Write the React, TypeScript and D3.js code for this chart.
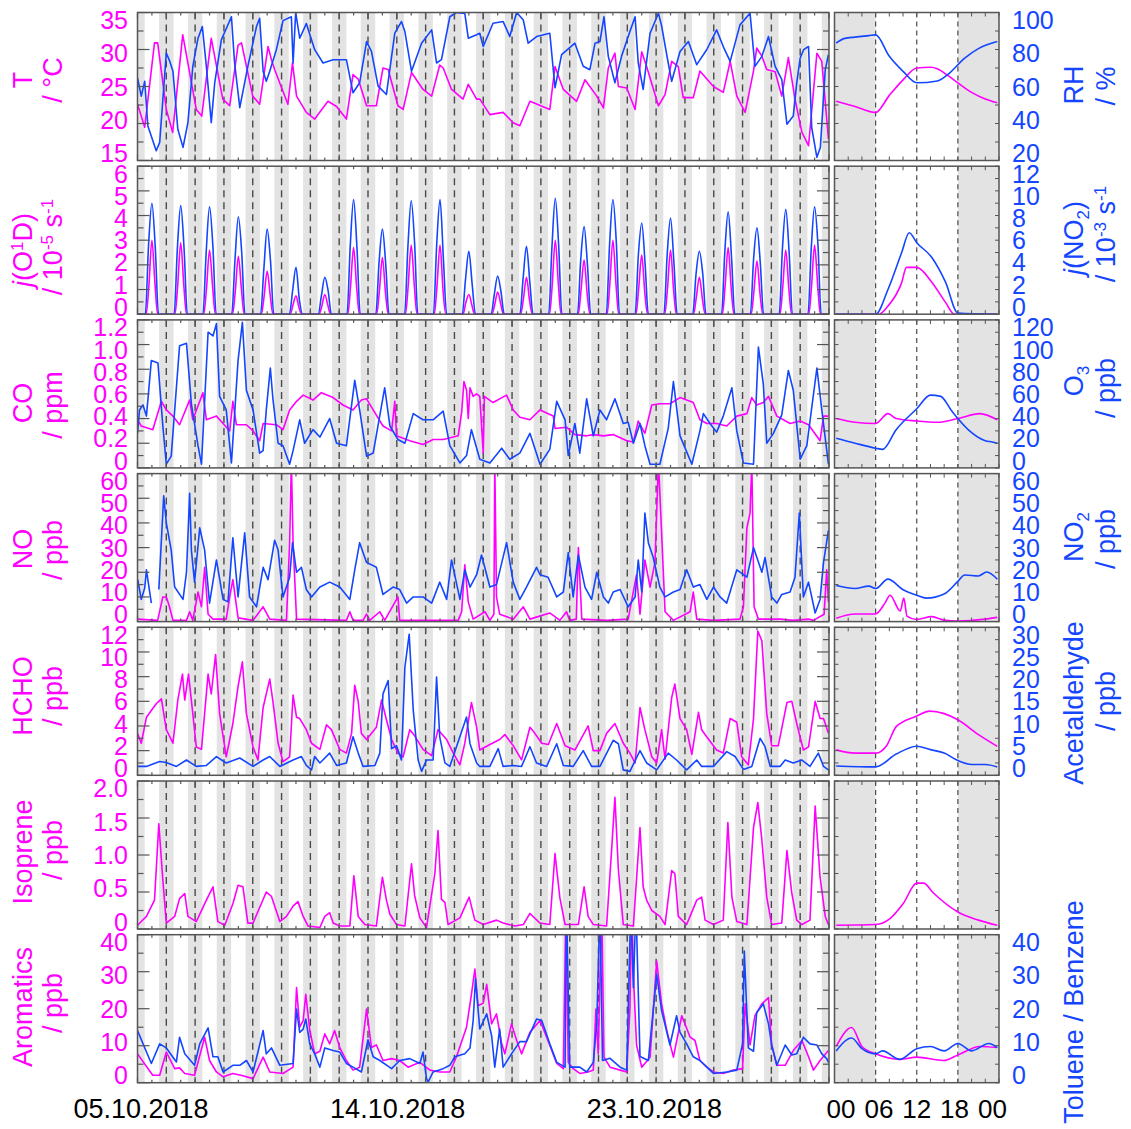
import React from 'react';
import * as d3 from 'd3';

type Pt = [number, number | null];

const MAGENTA = '#ff00ff';
const BLUE = '#1446ff';
const FONT = '"Liberation Sans", Arial, Helvetica, sans-serif';

const WIDTH = 1131;
const HEIGHT = 1129;
const MAIN_X0 = 137.5;
const MAIN_X1 = 829;
const DIUR_X0 = 834.5;
const DIUR_X1 = 999;
const ROW_TOP0 = 12.5;
const ROW_STEP = 153.7;
const ROW_H = 148;

// time axis: days since 05.10.2018 00:00
const DAYS = 24;
const dateTicks = [0, 9, 18];
const dateLabels = ['05.10.2018', '14.10.2018', '23.10.2018'];
const hourTicks = [0, 6, 12, 18, 24];
const hourLabels = ['00', '06', '12', '18', '00'];

// ---- panel 1: temperature / RH ----
const tempData: Pt[] = [[0,22.6],[0.25,19.5],[0.59,30.9],[0.7,30.9],[1.0,21.9],[1.22,18.8],[1.57,32],[2.04,21.9],[2.23,21.0],[2.56,31.5],[2.96,23.3],[3.2,22.4],[3.49,30.6],[3.61,30.9],[4.0,23.7],[4.24,22.6],[4.53,30.4],[4.65,28.6],[4.76,27.3],[5.22,22.6],[5.38,28.2],[5.52,23.7],[5.86,21.5],[6.15,20.6],[6.61,23.0],[6.91,22.3],[7.25,20.6],[7.48,26.6],[7.66,26.0],[7.95,22.4],[8.29,22.4],[8.52,27.5],[8.7,27.3],[9.04,22.4],[9.22,21.9],[9.51,26.9],[9.91,24.6],[10.21,23.7],[10.49,27.9],[10.61,27.5],[10.9,24.6],[11.3,23.3],[11.48,25.3],[11.77,23.3],[11.88,23.3],[12.23,21.2],[12.69,21.5],[13.04,20.1],[13.27,19.7],[13.62,23.0],[14.31,21.9],[14.49,27.7],[14.78,24.6],[15.24,23.0],[15.53,25.9],[15.94,23.7],[16.17,22.1],[16.34,27.5],[16.57,29.5],[16.69,25.0],[16.98,24.8],[17.27,21.9],[17.5,29.7],[17.67,27.7],[18.08,22.4],[18.31,23.9],[18.54,28.4],[18.77,27.7],[18.94,23.5],[19.29,23.5],[19.52,27.1],[19.99,25.0],[20.33,24.2],[20.57,28.4],[20.8,23.7],[21.09,21.5],[21.38,27.1],[21.49,30.2],[21.67,29.1],[21.84,27.3],[22.13,27.0],[22.36,23.7],[22.59,28.9],[22.82,23.3],[23.06,18.8],[23.29,17.0],[23.58,29.5],[23.75,28.4],[23.98,17.9]];
const rhData: Pt[] = [[0,64.7],[0.13,54.8],[0.25,62.8],[0.36,38.7],[0.65,25.3],[0.77,29.8],[1.0,78.1],[1.11,74],[1.23,68.2],[1.4,36.9],[1.58,27.1],[1.75,40.5],[1.92,70.9],[2.1,86.1],[2.25,92.4],[2.39,70.9],[2.56,40.5],[2.68,62.0],[2.91,85.2],[3.26,97.7],[3.37,72.7],[3.55,48.6],[3.83,70.9],[4.13,92.4],[4.24,96.9],[4.36,68.2],[4.47,62.8],[4.59,68.2],[4.82,79.9],[5.05,95.6],[5.34,97.7],[5.4,72.7],[5.49,100],[5.63,86.1],[5.86,94.0],[6.15,79.9],[6.44,72.7],[6.79,74.5],[7.25,74.5],[7.48,56.6],[7.71,62.0],[7.95,84.3],[8.12,79.0],[8.35,60.2],[8.64,55.7],[8.93,88.8],[9.16,95.1],[9.28,89.7],[9.51,68.2],[9.86,83.4],[10.21,90.6],[10.38,72.7],[10.55,74.5],[10.84,97.7],[11.07,100],[11.36,99.5],[11.48,86.1],[11.77,88],[11.88,88.8],[12.0,81.6],[12.34,94.2],[12.69,95.1],[12.92,87.0],[13.16,100],[13.39,95.9],[13.56,83.4],[13.85,87.0],[14.31,88.8],[14.49,59.3],[14.72,77.2],[15.18,83.4],[15.47,70.9],[15.7,69.1],[15.88,83.4],[16.05,84.3],[16.19,97.7],[16.34,76.3],[16.57,62.0],[16.8,76.3],[17.09,89.7],[17.27,97.7],[17.38,72.7],[17.55,58.4],[17.79,88.8],[18.08,99.6],[18.19,92.8],[18.42,72.7],[18.54,62.8],[18.83,78.9],[19.12,84.3],[19.41,71.8],[19.76,80.0],[20.1,90.6],[20.33,81.6],[20.57,73.6],[20.91,93.3],[21.26,99.6],[21.43,70.9],[21.67,76.3],[21.9,87.0],[22.13,70.9],[22.36,63.8],[22.54,39.6],[22.76,44],[22.88,62.0],[23.0,75.4],[23.12,79.9],[23.29,81.6],[23.4,37.7],[23.58,21.7],[23.7,27],[23.87,69.1],[23.98,77.2]];
const tempDiurnal: Pt[] = [[0.25,23.0],[3,22.3],[6,21.5],[8,23.8],[10,25.9],[12,27.5],[14,27.6],[15,27.4],[16.5,26.5],[18,25.5],[20,24.2],[22,23.3],[23.75,22.8]];
const rhDiurnal: Pt[] = [[0.25,83.5],[1.5,86],[3,86.7],[5,87.5],[6,87.9],[8,76.3],[10,68.2],[12,62.0],[15,63],[16.5,66.4],[19,75.4],[21,80.5],[23.75,84.3]];

// ---- panel 2: photolysis frequencies, one row per day: [morning, noon, afternoon] ----
const jO1DHours = [7.2, 9.4, 12, 14.6, 16.8];
const jNO2Hours = [6.5, 9.2, 12, 14.8, 17.5];
const jO1DDaily = [[1.1,3.0,1.2],[1.1,2.9,1.15],[1.0,2.6,1.1],[0.9,2.35,1.0],[0.7,1.75,0.75],[0.35,0.75,0.25],[0.3,0.8,0.35],[1.1,2.7,1.05],[0.9,2.3,0.85],[1.1,2.8,1.15],[1.1,2.8,0.9],[0.45,0.8,0.35],[0.35,0.9,0.4],[0.6,1.5,0.55],[1.15,3.0,1.2],[0.95,2.2,0.8],[1.2,3.0,1.2],[1.0,2.4,0.85],[1.0,2.6,0.95],[0.65,1.5,0.6],[1.1,2.7,1.0],[0.9,2.15,0.8],[1.05,2.6,1.0],[1.1,2.8,1.15]];
const jNO2Daily = [[5.6,9.0,5.4],[5.3,8.8,5.3],[5.0,8.7,5.5],[4.4,7.9,5.0],[3.6,6.9,4.3],[1.9,3.8,1.2],[1.5,3.0,1.9],[5.5,9.3,5.4],[4.2,6.9,4.0],[5.4,9.2,5.8],[5.6,9.3,4.5],[2.8,5.1,2.4],[1.6,3.1,1.8],[2.9,5.5,2.6],[5.4,9.4,5.6],[4.4,7.1,4.0],[5.6,9.3,5.9],[4.8,7.4,4.1],[4.8,7.8,4.2],[3.2,5.1,3.3],[5.0,8.3,4.6],[4.5,7.0,4.1],[5.3,8.5,5.0],[5.3,8.7,5.6]];
const jO1DDiurnal: Pt[] = [[0.25,0],[6.5,0],[7.8,0.33],[9.8,1.28],[10.5,1.9],[12,1.9],[14.2,1.3],[16.2,0.48],[17.5,0],[23.75,0]];
const jNO2Diurnal: Pt[] = [[0.25,0],[6,0],[7.8,2.0],[9.8,5.0],[10.9,6.6],[12,5.8],[14.2,4.6],[16.2,2.6],[18,0.1],[23.75,0]];

// ---- panel 3: CO / O3 ----
const coData: Pt[] = [[0,0.39],[0.13,0.34],[0.53,0.31],[0.83,0.54],[1.0,0.47],[1.23,0.42],[1.46,0.35],[1.81,0.55],[1.92,0.39],[2.27,0.61],[2.39,0.39],[2.74,0.42],[2.97,0.36],[3.2,0.30],[3.31,0.54],[3.43,0.35],[3.78,0.35],[4.01,0.30],[4.24,0.22],[4.36,0.36],[4.82,0.35],[5.05,0.31],[5.28,0.47],[5.52,0.54],[5.75,0.59],[6.09,0.55],[6.38,0.61],[6.79,0.57],[7.13,0.51],[7.48,0.47],[7.77,0.55],[7.95,0.56],[8.18,0.47],[8.52,0.34],[8.82,0.30],[8.93,0.54],[8.99,0.26],[9.45,0.22],[9.91,0.19],[10.26,0.23],[10.61,0.23],[11.13,0.26],[11.25,0.45],[11.33,0.70],[11.42,0.63],[11.48,0.40],[11.54,0.65],[11.65,0.58],[11.77,0.60],[11.88,0.58],[12.0,0.12],[12.04,0.58],[12.34,0.53],[12.81,0.59],[13.04,0.47],[13.27,0.41],[13.62,0.39],[13.97,0.47],[14.43,0.42],[14.49,0.32],[14.89,0.33],[15.18,0.27],[15.59,0.26],[15.82,0.27],[16.17,0.26],[16.51,0.27],[16.98,0.22],[17.21,0.21],[17.38,0.38],[17.61,0.28],[17.85,0.51],[18.13,0.52],[18.48,0.52],[18.83,0.57],[19.29,0.53],[19.52,0.39],[19.76,0.36],[20.1,0.36],[20.45,0.34],[20.8,0.42],[21.15,0.44],[21.32,0.57],[21.49,0.51],[21.72,0.53],[21.9,0.58],[22.19,0.42],[22.65,0.36],[23.0,0.38],[23.29,0.35],[23.69,0.22],[23.81,0.42],[23.98,0.42]];
const o3Data: Pt[] = [[0,28],[0.07,47],[0.19,51],[0.31,42],[0.48,87],[0.71,85],[0.88,34],[1.0,3],[1.17,9.5],[1.46,99],[1.7,101],[1.87,52],[2.1,18],[2.22,3],[2.45,110],[2.62,107],[2.74,117],[2.85,58],[3.08,47],[3.26,4],[3.49,87],[3.64,118],[3.78,63],[4.01,47],[4.24,12],[4.36,14],[4.47,47],[4.61,81],[4.7,56],[4.88,20],[5.05,18],[5.28,3],[5.4,14],[5.63,39],[5.8,20],[6.09,31],[6.33,25],[6.67,40],[6.91,20],[7.25,18],[7.54,71],[7.71,47],[7.95,9.5],[8.18,12],[8.58,65],[8.76,34],[9.04,23],[9.28,20],[9.57,44],[9.91,39],[10.26,39],[10.61,46],[10.84,18],[11.19,4],[11.42,10],[11.59,31],[11.88,7],[12.23,4],[12.64,16],[12.92,7],[13.27,12],[13.62,28],[13.97,3],[14.31,15],[14.55,54],[14.84,39],[14.95,10],[15.18,36],[15.35,12],[15.59,56],[15.82,26],[16.05,47],[16.28,39],[16.57,56],[16.86,36],[17.03,37],[17.21,20],[17.44,36],[17.61,18],[17.79,3],[18.13,3],[18.42,32],[18.6,70],[18.83,26],[19.06,13],[19.24,3],[19.52,30],[19.64,44],[19.87,36],[20.1,29],[20.33,42],[20.63,65],[20.8,30],[21.03,4],[21.38,3],[21.55,98],[21.72,68],[21.84,20],[22.07,28],[22.36,43],[22.59,79],[22.76,63],[23.0,7],[23.23,18],[23.58,81],[23.75,47],[23.98,3]];
const coDiurnal: Pt[] = [[0.25,0.40],[3,0.37],[6,0.36],[7.8,0.44],[9,0.40],[12,0.38],[15,0.37],[18,0.40],[21.2,0.44],[23.75,0.39]];
const o3Diurnal: Pt[] = [[0.25,24],[3,20],[6,16],[7,15],[9,31],[12,48],[14,59],[15.5,58],[17,47],[18,40],[19.5,31],[22,22],[23,21],[23.75,20]];

// ---- panel 4: NO / NO2 ----
const noData: Pt[] = [[0,1],[0.7,0.5],[0.88,10],[1.0,10],[1.11,6],[1.23,0.5],[1.7,0.5],[1.81,4],[1.92,0.5],[2.1,12],[2.22,6],[2.33,22],[2.45,3],[2.62,1],[3.08,1],[3.2,10],[3.31,17],[3.49,1.5],[4.01,0.5],[4.36,6],[4.59,1],[5.17,0.5],[5.28,32],[5.34,65],[5.4,32],[5.52,1],[7.25,0.5],[7.37,4],[7.48,0.5],[7.83,0.5],[7.95,3],[8.06,0.5],[8.41,4],[8.58,0.5],[9.04,10],[9.1,0.5],[11.13,0.5],[11.25,4],[11.36,23],[11.48,8],[11.65,1],[12.06,4],[12.23,0.5],[12.37,3],[12.4,65],[12.46,10],[12.57,3],[13.04,1],[13.39,6],[13.62,1],[14.31,3.5],[14.66,0.5],[14.89,4],[15.0,0.5],[15.23,1],[15.3,30],[15.42,1],[16.28,0.5],[17.03,1],[17.32,19],[17.44,3],[17.61,25],[17.79,14],[17.96,24],[18.08,65],[18.19,36],[18.31,4],[18.6,0.5],[19.18,4],[19.29,12],[19.41,1],[19.99,0.5],[20.91,1],[21.03,6],[21.15,38],[21.26,44],[21.32,65],[21.4,6],[21.55,1],[22.3,1],[22.76,0.5],[23.29,1],[23.46,0.5],[23.83,3],[23.92,21],[23.98,8]];
const no2Data: Pt[] = [[0.01,17],[0.13,9],[0.25,13.6],[0.31,21],[0.48,7.5],[0.6,null],[0.74,13],[0.91,51],[1.0,40],[1.17,29],[1.29,14],[1.58,9],[1.7,20],[1.81,52],[1.87,29],[1.98,16],[2.16,38],[2.33,29],[2.5,7.5],[2.74,25],[2.97,9],[3.14,8],[3.31,34],[3.49,10],[3.72,36],[3.89,10],[4.13,6],[4.36,22],[4.53,17],[4.76,33],[4.88,29],[5.05,10],[5.28,18],[5.38,32],[5.52,20],[5.69,22],[5.86,13],[6.04,10],[6.33,14],[6.67,16],[7.02,14],[7.37,9],[7.54,21],[7.71,32],[7.95,24],[8.29,22],[8.52,11],[8.87,14],[9.1,13],[9.34,7.5],[9.57,10],[9.91,10],[10.21,7.5],[10.49,16],[10.73,9],[10.9,25],[11.19,9],[11.36,21],[11.54,14],[11.77,19],[11.94,27],[12.23,14],[12.46,15],[12.81,32],[13.04,16],[13.27,9],[13.5,14],[13.85,22],[13.97,19],[14.25,18],[14.55,10],[14.78,12],[14.95,28],[15.12,10],[15.3,27],[15.53,14],[15.76,9],[15.94,20],[16.17,10],[16.34,7.5],[16.51,12],[16.75,13],[17.03,6],[17.27,10],[17.38,25],[17.5,12],[17.61,44],[17.73,32],[17.9,26],[18.13,14],[18.31,10],[18.6,12],[18.83,13],[19.06,21],[19.29,14],[19.52,15],[19.76,9],[19.99,14],[20.22,10],[20.45,7.5],[20.8,21],[21.15,18],[21.38,30],[21.67,20],[21.78,26],[22.01,10],[22.19,7.5],[22.36,11],[22.65,12],[22.82,18],[22.97,44],[23.11,10],[23.29,16],[23.52,3.5],[23.69,9],[23.81,24],[23.98,37]];
const noDiurnal: Pt[] = [[0.25,1.4],[3,3.1],[6,3.1],[7.4,7.7],[8.1,10.7],[9.6,4.3],[10.1,9.5],[10.6,2.1],[12,0.85],[14.2,2.0],[16,0.6],[18,0.2],[22,1],[23.75,1.7]];
const no2Diurnal: Pt[] = [[0.25,14.6],[3,13.4],[5,14.4],[6,13.4],[7.8,17.2],[10,12.9],[12,10.7],[13.4,9.5],[16,11.2],[18,16.3],[19,18.9],[21,18.5],[22.2,20.1],[23.75,17.2]];

// ---- panel 5: HCHO / acetaldehyde ----
const hchoData: Pt[] = [[0,3.4],[0.13,2.6],[0.31,4.7],[0.65,5.8],[0.83,6.2],[1.0,3.7],[1.23,2.6],[1.4,6.1],[1.56,8.2],[1.64,6.1],[1.77,8.2],[1.92,5.0],[2.04,2.3],[2.22,2.1],[2.45,8.2],[2.56,6.6],[2.71,9.8],[2.85,5.0],[3.08,1.5],[3.31,4.2],[3.49,7.2],[3.64,9.2],[3.78,5.0],[4.01,2.3],[4.18,1.25],[4.36,5.5],[4.59,7.8],[4.7,6.0],[4.88,2.6],[5.05,1.1],[5.28,1.5],[5.4,6.5],[5.52,4.7],[5.63,4.6],[5.86,3.7],[6.04,2.6],[6.33,2.1],[6.56,4.1],[6.73,3.7],[7.02,2.1],[7.25,1.8],[7.43,3.4],[7.54,7.3],[7.66,6.0],[7.77,3.4],[7.95,2.9],[8.29,3.9],[8.47,6.1],[8.64,4.5],[8.82,2.9],[9.04,1.8],[9.22,1.5],[9.45,3.7],[9.62,3.2],[9.91,2.1],[10.21,1.6],[10.43,3.7],[10.73,2.9],[10.96,1.8],[11.19,0.85],[11.36,2.6],[11.59,5.9],[11.77,3.9],[11.88,2.05],[12.23,2.5],[12.57,2.9],[12.75,3.3],[13.04,2.4],[13.33,1.25],[13.62,3.9],[13.73,3.6],[14.03,2.6],[14.26,2.5],[14.55,4.2],[14.84,2.4],[15.18,2.05],[15.64,4.0],[15.82,2.0],[16.05,2.0],[16.28,3.4],[16.57,4.2],[16.86,2.6],[17.09,1.8],[17.27,1.0],[17.44,5.5],[17.61,3.7],[17.85,1.5],[18.02,1.0],[18.19,3.7],[18.31,1.3],[18.54,6.3],[18.65,7.4],[18.83,4.6],[19.06,3.7],[19.24,1.7],[19.47,5.1],[19.58,3.7],[19.76,3.1],[20.1,2.05],[20.33,1.8],[20.57,4.6],[20.8,4.3],[20.97,1.5],[21.2,0.85],[21.38,4.6],[21.53,11.7],[21.67,10.9],[21.84,5.0],[22.01,2.4],[22.24,2.4],[22.54,5.9],[22.71,6.0],[22.88,4.2],[23.11,2.05],[23.29,2.3],[23.52,6.0],[23.69,4.6],[23.81,4.6],[23.98,3.4]];
const acetData: Pt[] = [[0,1.8],[0.31,1.8],[0.77,2.8],[1.0,2.6],[1.35,1.8],[1.7,3.1],[2.04,1.8],[2.39,2.0],[2.74,3.8],[3.08,2.5],[3.55,3.5],[4.01,1.8],[4.36,3.1],[4.59,3.8],[4.94,1.8],[5.4,3.1],[5.69,3.8],[5.86,2.0],[6.04,1.1],[6.15,3.8],[6.33,2.5],[6.67,4.5],[6.91,2.0],[7.25,2.5],[7.48,7.8],[7.66,4.5],[7.83,1.8],[8.24,2.0],[8.41,4.5],[8.52,16.5],[8.7,19.2],[8.82,5.4],[8.99,6.0],[9.16,3.1],[9.28,21.9],[9.43,28.6],[9.57,13.2],[9.74,3.1],[9.86,0.8],[10.03,3.1],[10.26,3.1],[10.38,19.9],[10.49,7.8],[10.67,2.5],[10.84,1.8],[11.42,11.8],[11.54,6.4],[11.77,2.5],[11.88,1.8],[12.23,1.8],[12.52,5.4],[12.69,1.8],[13.04,2.0],[13.33,1.8],[13.62,5.8],[13.85,2.5],[14.2,1.8],[14.55,6.4],[14.78,2.0],[15.12,1.8],[15.47,5.0],[15.76,1.8],[16.05,1.8],[16.51,7.1],[16.69,6.4],[16.86,1.1],[17.09,0.8],[17.44,5.0],[17.67,2.5],[18.02,1.1],[18.42,4.5],[18.71,3.1],[19.06,1.1],[19.41,3.1],[19.58,1.8],[19.99,1.8],[20.45,4.8],[20.74,3.8],[21.03,1.2],[21.32,1.8],[21.61,7.5],[21.78,5.8],[21.96,1.8],[22.3,1.8],[22.48,3.1],[22.76,2.5],[23.06,3.1],[23.34,1.8],[23.63,4.5],[23.81,1.8],[23.98,1.1]];
const hchoDiurnal: Pt[] = [[0.25,2.06],[3,1.8],[6,1.8],[7.6,2.4],[9,3.95],[12,4.8],[13.9,5.2],[16,5.0],[18,4.5],[21,3.3],[23.75,2.35]];
const acetDiurnal: Pt[] = [[0.25,1.9],[6,1.7],[9,4.3],[12,5.9],[14,5.2],[16,4.5],[18,3.0],[20,2.2],[22,2.2],[23.75,1.7]];

// ---- panel 6: isoprene ----
const isopreneData: Pt[] = [[0,0.05],[0.31,0.17],[0.59,0.39],[0.74,1.42],[0.88,0.66],[1.0,0.08],[1.29,0.17],[1.46,0.41],[1.64,0.48],[1.75,0.17],[2.04,0.10],[2.39,0.39],[2.62,0.57],[2.79,0.10],[3.03,0.05],[3.31,0.34],[3.49,0.59],[3.66,0.57],[3.83,0.08],[4.01,0.08],[4.47,0.50],[4.65,0.44],[4.94,0.10],[5.17,0.17],[5.4,0.31],[5.57,0.37],[5.75,0.17],[5.92,0.04],[6.33,0.02],[6.5,0.17],[6.67,0.22],[6.79,0.08],[7.02,0.04],[7.37,0.04],[7.51,0.72],[7.66,0.17],[7.89,0.06],[8.29,0.04],[8.5,0.70],[8.64,0.39],[8.76,0.2],[8.99,0.06],[9.28,0.04],[9.51,0.88],[9.62,0.45],[9.8,0.15],[10.03,0.02],[10.32,0.75],[10.43,1.33],[10.55,0.40],[10.67,0.36],[10.78,0.06],[11.19,0.15],[11.51,0.43],[11.71,0.12],[12.0,0.06],[12.46,0.12],[12.69,0.08],[13.1,0.04],[13.39,0.06],[13.62,0.21],[13.97,0.08],[14.31,0.06],[14.49,1.02],[14.66,0.42],[14.84,0.06],[15.3,0.06],[15.5,0.57],[15.64,0.17],[15.82,0.06],[16.28,0.04],[16.46,1.10],[16.57,1.78],[16.69,0.80],[16.86,0.06],[17.21,0.04],[17.44,1.37],[17.55,0.57],[17.67,0.39],[17.85,0.25],[18.13,0.17],[18.31,0.06],[18.54,0.79],[18.65,0.75],[18.77,0.17],[19.06,0.06],[19.41,0.39],[19.58,0.43],[19.7,0.12],[19.99,0.06],[20.33,0.12],[20.49,1.44],[20.63,0.43],[20.8,0.10],[21.15,0.06],[21.38,1.37],[21.53,1.71],[21.67,1.20],[21.84,0.43],[22.01,0.06],[22.36,0.08],[22.54,1.06],[22.71,0.48],[22.88,0.12],[23.06,0.06],[23.34,0.12],[23.52,1.66],[23.69,0.70],[23.87,0.17],[23.98,0.06]];
const isopreneDiurnal: Pt[] = [[0.25,0.05],[6,0.06],[8.1,0.14],[10,0.34],[12,0.62],[13,0.62],[14.4,0.49],[18,0.23],[21,0.12],[23.75,0.05]];

// ---- panel 7: aromatics / toluene-benzene ----
const aromaticsData: Pt[] = [[0,7.8],[0.53,2.0],[0.77,2.0],[1.0,8.3],[1.29,3.8],[1.46,4.0],[1.64,2.5],[1.98,2.0],[2.33,12.3],[2.5,6.0],[2.74,2.9],[2.97,1.6],[3.31,2.5],[3.66,1.9],[4.01,1.1],[4.36,6.9],[4.59,2.9],[5.05,2.5],[5.4,4.2],[5.52,25.7],[5.63,15.0],[5.75,16.8],[5.84,23.9],[5.98,14.1],[6.15,7.8],[6.33,8.5],[6.5,13.2],[6.67,10.5],[6.84,14.1],[7.02,9.5],[7.25,6.0],[7.48,3.4],[7.71,4.2],[7.95,19.9],[8.12,9.5],[8.29,10.2],[8.52,6.0],[8.82,6.5],[9.1,6.0],[9.39,4.2],[9.8,5.5],[10.15,3.4],[10.49,2.9],[10.84,2.9],[11.07,7.0],[11.42,15.0],[11.59,23.9],[11.71,30.7],[11.82,20.8],[12.0,21.5],[12.12,26.6],[12.29,15.9],[12.46,18.6],[12.64,10.5],[12.75,7.8],[12.98,15.9],[13.16,11.4],[13.33,7.8],[13.62,13.6],[13.97,16.8],[14.2,12.3],[14.55,5.2],[14.78,3.8],[14.87,48],[14.95,5.5],[15.12,3.8],[15.35,2.5],[15.64,2.9],[15.82,3.4],[15.91,19.9],[15.99,7.8],[16.11,48],[16.19,6.9],[16.4,4.2],[16.75,3.4],[16.98,2.9],[17.09,19.9],[17.15,48],[17.23,25.7],[17.32,10.2],[17.5,4.2],[17.79,6.9],[18.02,32.9],[18.19,21.3],[18.37,14.1],[18.6,6.9],[18.89,18.1],[19.18,12.3],[19.35,11.4],[19.52,6.0],[19.76,4.2],[19.99,2.9],[20.33,2.5],[20.68,3.4],[21.0,3.8],[21.09,21.3],[21.26,10.2],[21.43,18.1],[21.67,21.3],[21.9,23.0],[22.01,10.2],[22.19,4.7],[22.48,4.7],[22.76,8.7],[23.06,11.4],[23.29,7.0],[23.46,3.4],[23.69,6.0],[23.98,8.7]];
const tolBenzData: Pt[] = [[0,14.1],[0.48,5.2],[0.77,10.5],[1.0,9.4],[1.35,5.6],[1.46,12.3],[1.64,7.8],[1.98,4.7],[2.16,10.5],[2.45,14.8],[2.62,7.0],[2.79,7.0],[2.97,2.9],[3.31,4.7],[3.55,4.7],[3.78,6.0],[4.01,2.9],[4.36,14.1],[4.47,7.8],[4.65,9.4],[4.94,4.7],[5.4,5.2],[5.52,19.9],[5.63,13.6],[5.75,14.5],[5.84,17.2],[5.98,10.5],[6.15,7.8],[6.33,4.2],[6.5,9.4],[6.79,8.7],[7.02,8.3],[7.25,5.2],[7.48,4.2],[7.77,2.9],[8.0,11.6],[8.18,7.0],[8.41,6.0],[8.82,3.8],[9.1,6.0],[9.45,6.5],[9.8,5.2],[9.91,8.3],[10.03,1.1],[10.09,0.2],[10.26,2.9],[10.61,3.8],[10.84,4.7],[11.01,7.0],[11.36,7.8],[11.54,9.4],[11.65,16.8],[11.73,28.0],[11.88,14.5],[12.12,18.6],[12.29,12.7],[12.4,4.2],[12.57,14.5],[12.69,4.2],[12.98,7.8],[13.27,11.1],[13.5,11.1],[13.85,17.2],[14.03,16.8],[14.31,10.5],[14.55,5.5],[14.84,4.2],[14.89,48],[15.0,4.2],[15.35,4.2],[15.59,2.9],[15.82,5.5],[15.94,15.9],[16.05,48],[16.14,6.0],[16.4,6.6],[16.75,4.2],[16.98,3.4],[17.12,48],[17.21,25.7],[17.3,48],[17.44,7.1],[17.73,6.0],[18.02,29.3],[18.19,19.5],[18.48,10.2],[18.71,18.1],[18.83,13.6],[19.06,10.5],[19.29,7.0],[19.52,6.0],[19.76,4.2],[19.99,2.5],[20.45,2.9],[20.8,3.4],[21.0,10.5],[21.06,35.6],[21.2,9.4],[21.38,8.5],[21.49,18.9],[21.72,21.3],[21.9,15.9],[22.01,10.2],[22.19,4.7],[22.48,10.2],[22.71,7.5],[22.88,7.8],[23.11,12.3],[23.34,10.5],[23.58,10.2],[23.75,7.8],[23.92,6.5],[23.98,5.5]];
const aromaticsDiurnal: Pt[] = [[0.25,9.8],[2.5,14.9],[4,9.8],[6,7.8],[9.6,6.3],[12,6.9],[15.9,6.0],[18,7.5],[21.2,9.8],[23.75,9.5]];
const tolBenzDiurnal: Pt[] = [[0.25,8.6],[2.5,12.1],[4,9.2],[6,7.8],[7,8.6],[9.5,6.3],[12,9.2],[14,9.8],[16,8.6],[18,10.6],[20,8.6],[22.5,10.6],[23.75,9.5]];

// build the photolysis series from the daily tables
const fromDaily = (rows: number[][], hours: number[]): Pt[] => {
  const pts: Pt[] = [[0, 0]];
  rows.forEach((r, d) => {
    const vals = [0, r[0], r[1], r[2], 0];
    hours.forEach((h, k) => pts.push([d + h / 24, vals[k]]));
  });
  pts.push([DAYS, 0]);
  return pts;
};
const jO1DData = fromDaily(jO1DDaily, jO1DHours);
const jNO2Data = fromDaily(jNO2Daily, jNO2Hours);

interface Panel {
  left: [number, number];
  leftTicks: number[];
  leftLabels: string[];
  leftMinor: number;
  right: [number, number] | null;
  rightTicks: number[];
  rightMinor: number;
  pink: Pt[];
  blue: Pt[] | null;
  pinkD: Pt[];
  blueD: Pt[] | null;
  smooth?: boolean;
}

const ticks = (a: number, b: number, s: number) => d3.range(a, b + s / 2, s);

const panels: Panel[] = [
  { left: [15, 35], leftTicks: ticks(15, 35, 5), leftLabels: ['15', '20', '25', '30', '35'], leftMinor: 2.5,
    right: [20, 100], rightTicks: ticks(20, 100, 20), rightMinor: 10,
    pink: tempData, blue: rhData, pinkD: tempDiurnal, blueD: rhDiurnal },
  { left: [0, 6], leftTicks: ticks(0, 6, 1), leftLabels: ['0', '1', '2', '3', '4', '5', '6'], leftMinor: 0.5,
    right: [0, 12], rightTicks: ticks(0, 12, 2), rightMinor: 1,
    pink: jO1DData, blue: jNO2Data, pinkD: jO1DDiurnal, blueD: jNO2Diurnal, smooth: true },
  { left: [0, 1.2], leftTicks: ticks(0, 1.2, 0.2), leftLabels: ['0', '0.2', '0.4', '0.6', '0.8', '1.0', '1.2'], leftMinor: 0.1,
    right: [0, 120], rightTicks: ticks(0, 120, 20), rightMinor: 10,
    pink: coData, blue: o3Data, pinkD: coDiurnal, blueD: o3Diurnal },
  { left: [0, 60], leftTicks: ticks(0, 60, 10), leftLabels: ['0', '10', '20', '30', '40', '50', '60'], leftMinor: 5,
    right: [0, 60], rightTicks: ticks(0, 60, 10), rightMinor: 5,
    pink: noData, blue: no2Data, pinkD: noDiurnal, blueD: no2Diurnal },
  { left: [0, 12], leftTicks: ticks(0, 12, 2), leftLabels: ['0', '2', '4', '6', '8', '10', '12'], leftMinor: 1,
    right: [0, 30], rightTicks: ticks(0, 30, 5), rightMinor: 2.5,
    pink: hchoData, blue: acetData, pinkD: hchoDiurnal, blueD: acetDiurnal },
  { left: [0, 2], leftTicks: ticks(0, 2, 0.5), leftLabels: ['0', '0.5', '1.0', '1.5', '2.0'], leftMinor: 0.25,
    right: null, rightTicks: [], rightMinor: 0.25,
    pink: isopreneData, blue: null, pinkD: isopreneDiurnal, blueD: null },
  { left: [0, 40], leftTicks: ticks(0, 40, 10), leftLabels: ['0', '10', '20', '30', '40'], leftMinor: 5,
    right: [0, 40], rightTicks: ticks(0, 40, 10), rightMinor: 5,
    pink: aromaticsData, blue: tolBenzData, pinkD: aromaticsDiurnal, blueD: tolBenzDiurnal },
];

const xMain = d3.scaleLinear().domain([0, DAYS]).range([MAIN_X0, MAIN_X1]);
const xDiur = d3.scaleLinear().domain([0, 24]).range([DIUR_X0, DIUR_X1]);

const SUP = { fontSize: 17 };

// axis titles (left: magenta, right: blue), two lines each
const leftTitles: { y1: number; y2: number; l1: React.ReactNode; l2: React.ReactNode }[] = [
  { y1: 80, y2: 80, l1: 'T', l2: '/ °C' },
  { y1: 250, y2: 247, l1: <><tspan fontStyle="italic">j</tspan>(O<tspan {...SUP} dy={-9}>1</tspan><tspan dy={9}>D)</tspan></>,
    l2: <>/ 10<tspan {...SUP} dy={-9}>-5</tspan><tspan dy={9}> s</tspan><tspan {...SUP} dy={-9}>-1</tspan></> },
  { y1: 403, y2: 405, l1: 'CO', l2: '/ ppm' },
  { y1: 549, y2: 550, l1: 'NO', l2: '/ ppb' },
  { y1: 696, y2: 696, l1: 'HCHO', l2: '/ ppb' },
  { y1: 852, y2: 850, l1: 'Isoprene', l2: '/ ppb' },
  { y1: 1007, y2: 1003, l1: 'Aromatics', l2: '/ ppb' },
];
const rightTitles: ({ y1: number; y2: number; l1: React.ReactNode; l2: React.ReactNode | null } | null)[] = [
  { y1: 85, y2: 86, l1: 'RH', l2: '/ %' },
  { y1: 238, y2: 234, l1: <><tspan fontStyle="italic">j</tspan>(NO<tspan {...SUP} dy={6}>2</tspan><tspan dy={-6}>)</tspan></>,
    l2: <>/ 10<tspan {...SUP} dy={-9}>-3</tspan><tspan dy={9}> s</tspan><tspan {...SUP} dy={-9}>-1</tspan></> },
  { y1: 381, y2: 388, l1: <>O<tspan {...SUP} dy={6}>3</tspan></>, l2: '/ ppb' },
  { y1: 537, y2: 539, l1: <>NO<tspan {...SUP} dy={6}>2</tspan></>, l2: '/ ppb' },
  { y1: 703, y2: 701, l1: 'Acetaldehyde', l2: '/ ppb' },
  null,
  { y1: 1012, y2: 0, l1: 'Toluene / Benzene', l2: null },
];

const LABEL_SQUEEZE = 0.9;

const App: React.FC = () => {
  const nights = d3.range(0, DAYS + 1).map(d => [Math.max(0, d - 0.25), Math.min(DAYS, d + 0.25)]);
  const midnights = d3.range(1, DAYS);

  return (
    <svg width={WIDTH} height={HEIGHT} style={{ position: 'absolute', left: 0, top: 0, background: '#fff' }}
      fontFamily={FONT}>
      <rect width={WIDTH} height={HEIGHT} fill="#fff" />
      {panels.map((p, i) => {
        const top = ROW_TOP0 + i * ROW_STEP;
        const bottom = top + ROW_H;
        const mid = top + ROW_H / 2;
        const yL = d3.scaleLinear().domain(p.left).range([bottom, top]);
        const yR = p.right ? d3.scaleLinear().domain(p.right).range([bottom, top]) : yL;
        const curve = p.smooth ? d3.curveMonotoneX : d3.curveLinear;
        const mainLine = (y: d3.ScaleLinear<number, number>) => d3.line<Pt>()
          .defined(d => d[1] !== null)
          .x(d => xMain(d[0]))
          .y(d => y(d[1] as number))
          .curve(curve);
        const diurLine = (y: d3.ScaleLinear<number, number>) => d3.line<Pt>()
          .x(d => xDiur(d[0]))
          .y(d => y(d[1] as number))
          .curve(d3.curveMonotoneX);
        const squeeze = (v: number) => mid + (v - mid) * LABEL_SQUEEZE;
        const leftMinor = ticks(p.left[0], p.left[1], p.leftMinor);
        const rightMinor = p.right ? ticks(p.right[0], p.right[1], p.rightMinor) : leftMinor;
        const lt = leftTitles[i];
        const rt = rightTitles[i];
        return (
          <g key={i}>
            <defs>
              <clipPath id={`clipM${i}`}><rect x={MAIN_X0} y={top} width={MAIN_X1 - MAIN_X0} height={ROW_H} /></clipPath>
              <clipPath id={`clipD${i}`}><rect x={DIUR_X0} y={top} width={DIUR_X1 - DIUR_X0} height={ROW_H} /></clipPath>
            </defs>
            {/* main time series panel */}
            {nights.map(([a, b], k) => (
              <rect key={`n${k}`} x={xMain(a)} y={top} width={xMain(b) - xMain(a)} height={ROW_H} fill="#e3e3e3" />
            ))}
            {midnights.map(d => (
              <line key={`m${d}`} x1={xMain(d)} x2={xMain(d)} y1={top} y2={bottom}
                stroke="#4a4a4a" strokeWidth={1.4} strokeDasharray="7,5" />
            ))}
            <g clipPath={`url(#clipM${i})`} fill="none" strokeWidth={1.6} strokeLinejoin="round">
              <path d={mainLine(yL)(p.pink) || ''} stroke={MAGENTA} />
              {p.blue && <path d={mainLine(yR)(p.blue) || ''} stroke={BLUE} />}
            </g>
            <rect x={MAIN_X0} y={top} width={MAIN_X1 - MAIN_X0} height={ROW_H} fill="none" stroke="#555" strokeWidth={1.5} />
            {leftMinor.map((v, k) => {
              const major = p.leftTicks.some(t => Math.abs(t - v) < 1e-6);
              return <line key={`lt${k}`} x1={MAIN_X0} x2={MAIN_X0 + (major ? 12 : 6)} y1={yL(v)} y2={yL(v)} stroke="#555" strokeWidth={1.2} />;
            })}
            {rightMinor.map((v, k) => {
              const major = p.right ? p.rightTicks.some(t => Math.abs(t - v) < 1e-6) : p.leftTicks.some(t => Math.abs(t - v) < 1e-6);
              return <line key={`rt${k}`} x1={MAIN_X1} x2={MAIN_X1 - (major ? 12 : 6)} y1={yR(v)} y2={yR(v)} stroke="#555" strokeWidth={1.2} />;
            })}
            {d3.range(0, DAYS * 2 + 1).map(k => {
              const x = xMain(k / 2);
              const len = k % 2 === 0 ? 6 : 3;
              return (
                <g key={`xt${k}`} stroke="#555" strokeWidth={1.2}>
                  <line x1={x} x2={x} y1={top} y2={top + len} />
                  <line x1={x} x2={x} y1={bottom} y2={bottom - len} />
                </g>
              );
            })}
            {/* diurnal panel */}
            <rect x={xDiur(0)} y={top} width={xDiur(6) - xDiur(0)} height={ROW_H} fill="#e3e3e3" />
            <rect x={xDiur(18)} y={top} width={xDiur(24) - xDiur(18)} height={ROW_H} fill="#e3e3e3" />
            {[6, 12, 18].map(h => (
              <line key={`dh${h}`} x1={xDiur(h)} x2={xDiur(h)} y1={top} y2={bottom}
                stroke="#4a4a4a" strokeWidth={1.2} strokeDasharray="5,4" />
            ))}
            <g clipPath={`url(#clipD${i})`} fill="none" strokeWidth={1.6}>
              <path d={diurLine(yL)(p.pinkD) || ''} stroke={MAGENTA} />
              {p.blueD && <path d={diurLine(yR)(p.blueD) || ''} stroke={BLUE} />}
            </g>
            <rect x={DIUR_X0} y={top} width={DIUR_X1 - DIUR_X0} height={ROW_H} fill="none" stroke="#555" strokeWidth={1.5} />
            {leftMinor.map((v, k) => (
              <line key={`dlt${k}`} x1={DIUR_X0} x2={DIUR_X0 + 4} y1={yL(v)} y2={yL(v)} stroke="#555" />
            ))}
            {rightMinor.map((v, k) => (
              <line key={`drt${k}`} x1={DIUR_X1} x2={DIUR_X1 - 4} y1={yR(v)} y2={yR(v)} stroke="#555" />
            ))}
            {d3.range(0, 25, 2).map(h => (
              <g key={`dxt${h}`} stroke="#555">
                <line x1={xDiur(h)} x2={xDiur(h)} y1={top} y2={top + 4} />
                <line x1={xDiur(h)} x2={xDiur(h)} y1={bottom} y2={bottom - 4} />
              </g>
            ))}
            {/* tick labels */}
            {p.leftTicks.map((v, k) => (
              <text key={`ll${k}`} x={128} y={squeeze(yL(v)) + 9} textAnchor="end" fontSize={25} fill={MAGENTA}>
                {p.leftLabels[k]}
              </text>
            ))}
            {p.right && p.rightTicks.map((v, k) => (
              <text key={`rl${k}`} x={1012} y={squeeze(yR(v)) + 9} textAnchor="start" fontSize={25} fill={BLUE}>
                {String(v)}
              </text>
            ))}
            {/* axis titles */}
            <text transform={`translate(32,${lt.y1}) rotate(-90)`} textAnchor="middle" fontSize={27} fill={MAGENTA}>{lt.l1}</text>
            <text transform={`translate(62,${lt.y2}) rotate(-90)`} textAnchor="middle" fontSize={27} fill={MAGENTA}>{lt.l2}</text>
            {rt && <text transform={`translate(1083,${rt.y1}) rotate(-90)`} textAnchor="middle" fontSize={27} fill={BLUE}>{rt.l1}</text>}
            {rt && rt.l2 && <text transform={`translate(1115,${rt.y2}) rotate(-90)`} textAnchor="middle" fontSize={27} fill={BLUE}>{rt.l2}</text>}
          </g>
        );
      })}
      {/* bottom axis labels */}
      {dateTicks.map((d, k) => {
        const c = (MAIN_X0 + MAIN_X1) / 2;
        const x = c + (xMain(d) - c) * 0.99;
        return <text key={`dl${k}`} x={x} y={1118} textAnchor="middle" fontSize={27} fill="#000">{dateLabels[k]}</text>;
      })}
      {hourTicks.map((h, k) => {
        const c = (DIUR_X0 + DIUR_X1) / 2;
        const x = c + (xDiur(h) - c) * 0.92;
        return <text key={`hl${k}`} x={x} y={1118} textAnchor="middle" fontSize={26} fill="#000">{hourLabels[k]}</text>;
      })}
    </svg>
  );
};

export default App;
